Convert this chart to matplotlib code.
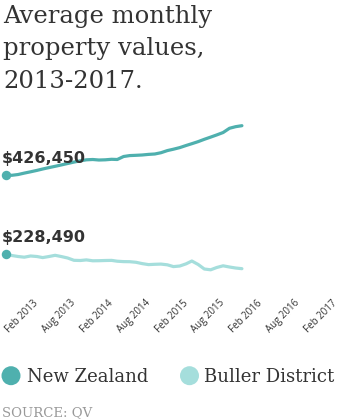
import matplotlib
matplotlib.use("Agg")
import matplotlib.pyplot as plt
import matplotlib.dates as mdates
import pandas as pd
from matplotlib.patches import Circle

# ---- data ----
months = pd.date_range("2012-09-01", periods=39, freq="MS")
nz_values = [426450, 425700, 427700, 431200, 434500, 438000, 441500, 445000, 448250,
             451750, 455250, 458800, 462000, 464500, 465300, 464000, 464500, 465800,
             465300, 472800, 475100, 475800, 476600, 478100, 479100, 482300, 487600,
             491100, 495100, 500400, 504900, 510100, 515900, 521400, 526900, 532900,
             543500, 547500, 550000]
buller_values = [228490, 224700, 222200, 220500, 223500, 222200, 219500, 222200, 225200,
                 222000, 218500, 212700, 212200, 213700, 211500, 211700, 212200, 212500,
                 210400, 209400, 209200, 207700, 204400, 201900, 202700, 203200, 201400,
                 196900, 198400, 203900, 210900, 202200, 190900, 188900, 194700, 198900,
                 195900, 193400, 191700]
tick_dates = pd.date_range("2013-02-01", "2017-02-01", freq="6MS")
tick_labels = ["Feb 2013", "Aug 2013", "Feb 2014", "Aug 2014", "Feb 2015",
               "Aug 2015", "Feb 2016", "Aug 2016", "Feb 2017"]
series_names = ["New Zealand", "Buller District"]
start_labels = ["$426,450", "$228,490"]
title_lines = ["Average monthly", "property values,", "2013-2017."]
source_text = "SOURCE: QV"

NZ_COLOR = "#4fb0ae"
BULLER_COLOR = "#a5dedc"
TEXT_COLOR = "#333333"

W, H = 348, 419
fig = plt.figure(figsize=(W / 100, H / 100), dpi=100)
fig.patch.set_facecolor("white")

# axes spanning full width, pixel rows 110..285 from top
ax_top_px, ax_bot_px = 110, 285
ax = fig.add_axes([0, (H - ax_bot_px) / H, 1, (ax_bot_px - ax_top_px) / H])
ax.set_facecolor("none")

# x scale: first month at 5.7 px, ~6.22 px per month
px_per_day = 6.22 / 30.44
x_first = mdates.date2num(months[0])
ax.set_xlim(x_first - 5.7 / px_per_day, x_first + (W - 5.7) / px_per_day)
# y scale: 426,450 at 175 px; 228,490 at 254 px
k = (nz_values[0] - buller_values[0]) / (254 - 175)
ax.set_ylim(nz_values[0] - (ax_bot_px - 175) * k, nz_values[0] + (175 - ax_top_px) * k)

ax.plot(months, buller_values, color=BULLER_COLOR, lw=2.3, solid_joinstyle="round",
        solid_capstyle="round", zorder=2)
ax.plot(months, nz_values, color=NZ_COLOR, lw=2.3, solid_joinstyle="round",
        solid_capstyle="round", zorder=3)
for vals in (nz_values, buller_values):
    ax.plot([months[0]], [vals[0]], "o", color=NZ_COLOR, ms=6.8, mew=0, zorder=4)

for vals, lab in zip((nz_values, buller_values), start_labels):
    ax.annotate(lab, xy=(months[0], vals[0]), xytext=(-3.7, 12.5),
                textcoords="offset pixels", ha="left", va="baseline",
                fontsize=11.5, fontweight="bold", family="DejaVu Sans",
                color=TEXT_COLOR, zorder=5)

for s in ax.spines.values():
    s.set_visible(False)
ax.set_yticks([])
ax.set_xticks(tick_dates)
ax.set_xticklabels(tick_labels, rotation=45, ha="right", va="center",
                   rotation_mode="anchor", fontsize=7, family="Open Sans",
                   color=TEXT_COLOR)
ax.tick_params(axis="x", length=0, pad=12)

# title
for i, line in enumerate(title_lines):
    fig.text(3 / W, 1 - (23.5 + 32 * i) / H, line, ha="left", va="baseline",
             fontsize=17.5, family="DejaVu Serif", color=TEXT_COLOR)

# legend
legend_x_circle = [11, 189.5]
legend_x_text = [27, 204]
colors = [NZ_COLOR, BULLER_COLOR]
for cx, tx, c, name in zip(legend_x_circle, legend_x_text, colors, series_names):
    circ = Circle((cx / 100, (H - 375.7) / 100), 9.5 / 100,
                  transform=fig.dpi_scale_trans, facecolor=c, edgecolor="none")
    fig.patches.append(circ)
    fig.text(tx / W, 1 - 382.3 / H, name, ha="left", va="baseline",
             fontsize=13, family="DejaVu Serif", color=TEXT_COLOR)

fig.text(2 / W, 1 - 415.7 / H, source_text, ha="left", va="baseline",
         fontsize=9.5, family="DejaVu Serif", color="#999999")

fig.savefig("out.png", dpi=100, facecolor="white")
